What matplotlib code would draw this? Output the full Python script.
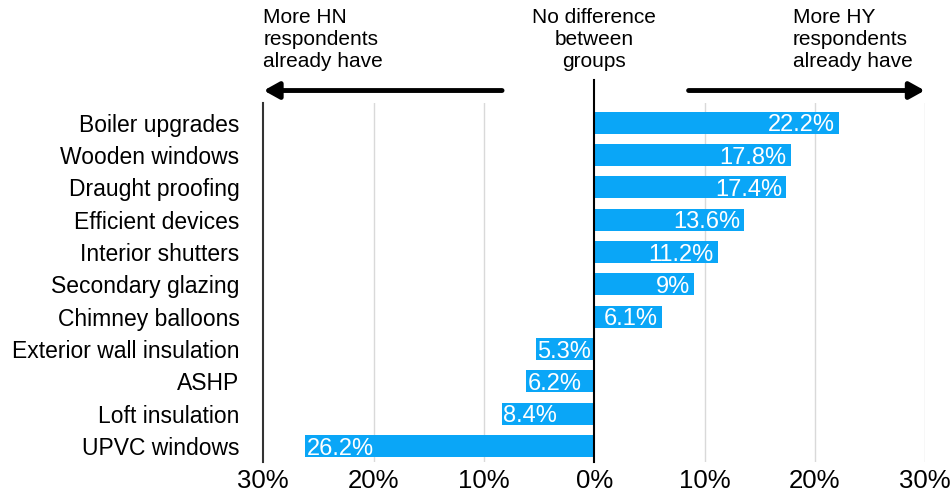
import numpy as np
import matplotlib.pyplot as plt

plt.rcParams['font.family'] = ['Liberation Sans', 'DejaVu Sans']

# Data (positive = more HY respondents, negative = more HN respondents)
categories = ["Boiler upgrades", "Wooden windows", "Draught proofing", "Efficient devices",
              "Interior shutters", "Secondary glazing", "Chimney balloons",
              "Exterior wall insulation", "ASHP", "Loft insulation", "UPVC windows"]
values = [22.2, 17.8, 17.4, 13.6, 11.2, 9, 6.1, -5.3, -6.2, -8.4, -26.2]
value_labels = ["22.2%", "17.8%", "17.4%", "13.6%", "11.2%", "9%", "6.1%",
                "5.3%", "6.2%", "8.4%", "26.2%"]
xticks = [-30, -20, -10, 0, 10, 20, 30]
xtick_labels = ["30%", "20%", "10%", "0%", "10%", "20%", "30%"]

blue = "#0aa6f7"

fig = plt.figure(figsize=(9.5, 4.99), dpi=100)
ax = fig.add_axes([0.277, 0.074, 0.697, 0.72])

y = np.arange(len(categories))[::-1]
ax.barh(y, values, height=0.68, color=blue, zorder=2)

for yi, v, lab in zip(y, values, value_labels):
    if v >= 0:
        ax.text(v - 0.35, yi - 0.08, lab, ha="right", va="center", color="white", fontsize=17, zorder=3)
    else:
        ax.text(v + 0.15, yi - 0.08, lab, ha="left", va="center", color="white", fontsize=17, zorder=3)

ax.set_xlim(-30, 30)
ax.set_ylim(-0.5, 10.62)
ax.set_yticks(y)
ax.set_yticklabels(categories, fontsize=16.5)
ax.set_xticks(xticks)
ax.set_xticklabels(xtick_labels, fontsize=18.5)
ax.tick_params(axis="both", length=0)
ax.tick_params(axis="y", pad=17)
ax.tick_params(axis="x", pad=5)

for s in ["top", "right", "bottom"]:
    ax.spines[s].set_visible(False)
ax.spines["left"].set_color("#333333")
ax.spines["left"].set_linewidth(1.5)

for g in [-20, -10, 10, 20, 30]:
    ax.axvline(g, color="#d9d9d9", linewidth=1, zorder=0)

# zero line extending above the axes
ax.plot([0, 0], [-0.5, 11.33], color="black", linewidth=1.5, clip_on=False, zorder=4)

# arrows and header texts
ax.annotate("", xy=(-30.2, 11.0), xytext=(-8.1, 11.0), annotation_clip=False,
            arrowprops=dict(arrowstyle="-|>,head_length=0.9,head_width=0.5", color="black", lw=3.5))
ax.annotate("", xy=(30.2, 11.0), xytext=(8.3, 11.0), annotation_clip=False,
            arrowprops=dict(arrowstyle="-|>,head_length=0.9,head_width=0.5", color="black", lw=3.5))

ax.text(-30, 13.55, "More HN\nrespondents\nalready have", ha="left", va="top",
        fontsize=15, linespacing=1.2)
ax.text(0, 13.55, "No difference\nbetween\ngroups", ha="center", va="top",
        fontsize=15, linespacing=1.2, multialignment="center")
ax.text(18.0, 13.55, "More HY\nrespondents\nalready have", ha="left", va="top",
        fontsize=15, linespacing=1.2)

fig.savefig("out.png", dpi=100)
